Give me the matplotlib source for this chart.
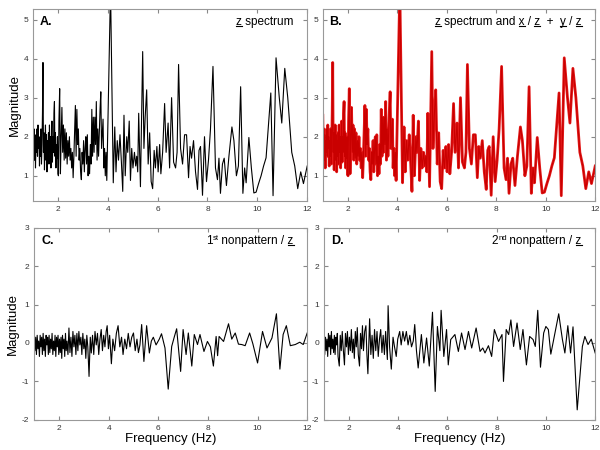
import numpy as np
import matplotlib
matplotlib.use('Agg')
import matplotlib.pyplot as plt

plt.rcParams['font.family'] = ['Liberation Sans', 'DejaVu Sans']
plt.rcParams['axes.unicode_minus'] = False

# z spectrum (panels A and B)
freq_a = [1.00, 1.02, 1.04, 1.06, 1.08, 1.10, 1.12, 1.14, 1.16, 1.18,
          1.20, 1.22, 1.24, 1.26, 1.28, 1.30, 1.32, 1.34, 1.36, 1.38,
          1.40, 1.42, 1.44, 1.46, 1.48, 1.50, 1.52, 1.54, 1.56, 1.58,
          1.60, 1.62, 1.64, 1.66, 1.68, 1.70, 1.72, 1.74, 1.76, 1.78,
          1.80, 1.82, 1.84, 1.86, 1.88, 1.90, 1.92, 1.94, 1.96, 1.98,
          2.00, 2.02, 2.04, 2.07, 2.10, 2.13, 2.16, 2.19, 2.22, 2.25,
          2.28, 2.31, 2.34, 2.37, 2.40, 2.43, 2.46, 2.49, 2.52, 2.55,
          2.58, 2.61, 2.64, 2.67, 2.70, 2.73, 2.76, 2.79, 2.82, 2.85,
          2.88, 2.91, 2.94, 2.97, 3.00, 3.03, 3.06, 3.09, 3.12, 3.15,
          3.18, 3.21, 3.24, 3.27, 3.30, 3.33, 3.36, 3.39, 3.42, 3.45,
          3.48, 3.51, 3.54, 3.57, 3.60, 3.63, 3.66, 3.69, 3.72, 3.75,
          3.78, 3.81, 3.84, 3.87, 3.90, 3.93, 3.96, 4.11, 4.22, 4.28,
          4.33, 4.38, 4.43, 4.49, 4.55, 4.60, 4.65, 4.70, 4.76, 4.80,
          4.86, 4.91, 4.96, 5.01, 5.07, 5.12, 5.16, 5.20, 5.24, 5.31,
          5.40, 5.45, 5.50, 5.56, 5.62, 5.68, 5.74, 5.80, 5.86, 5.91,
          5.97, 6.02, 6.08, 6.13, 6.20, 6.28, 6.34, 6.42, 6.48, 6.56,
          6.64, 6.72, 6.78, 6.84, 6.92, 7.00, 7.08, 7.16, 7.24, 7.30,
          7.36, 7.44, 7.52, 7.60, 7.66, 7.72, 7.80, 7.88, 7.96, 8.04,
          8.12, 8.22, 8.32, 8.40, 8.46, 8.52, 8.60, 8.67, 8.76, 8.86,
          8.98, 9.06, 9.16, 9.24, 9.33, 9.42, 9.49, 9.55, 9.66, 9.76,
          9.86, 9.95, 10.05, 10.15, 10.25, 10.35, 10.54, 10.63, 10.75, 10.88,
          10.98, 11.10, 11.22, 11.38, 11.50, 11.62, 11.74, 11.85, 12.00]
mag_a = [2.55, 1.50, 2.20, 1.40, 2.05, 1.20, 1.90, 1.60, 2.20, 1.50,
         2.30, 1.70, 2.00, 1.25, 1.90, 1.50, 2.20, 1.30, 1.80, 2.60,
         3.90, 1.60, 2.10, 1.15, 1.80, 2.30, 1.40, 2.05, 1.10, 1.90,
         1.50, 2.10, 1.30, 2.30, 1.60, 2.00, 1.20, 1.90, 2.40, 1.35,
         2.00, 1.60, 2.60, 2.90, 1.50, 2.10, 1.20, 1.80, 1.45, 2.00,
         1.05, 1.00, 2.40, 3.23, 1.05, 2.00, 2.75, 1.60, 2.30, 1.40,
         2.20, 1.45, 2.10, 1.30, 1.90, 1.50, 2.00, 1.40, 1.70, 1.20,
         1.60, 0.95, 1.50, 2.20, 2.80, 1.50, 2.70, 1.80, 2.20, 1.40,
         1.70, 1.10, 0.90, 1.60, 1.30, 1.90, 1.10, 1.70, 2.00, 1.30,
         2.05, 1.00, 1.50, 1.05, 1.80, 1.30, 2.70, 1.50, 2.50, 1.60,
         2.50, 1.80, 2.90, 1.40, 2.20, 1.50, 2.10, 2.70, 3.15, 1.70,
         2.10, 2.45, 1.20, 1.70, 1.00, 1.60, 0.88, 5.80, 0.82, 2.25,
         1.10, 1.90, 1.40, 2.05, 1.30, 0.60, 2.55, 1.00, 2.00, 1.60,
         2.40, 0.88, 1.70, 1.20, 1.60, 1.25, 1.50, 1.10, 2.60, 0.72,
         4.18, 1.70, 2.50, 3.20, 1.30, 2.10, 0.85, 0.67, 1.65, 1.20,
         1.75, 1.10, 1.80, 1.05, 1.60, 2.85, 1.60, 2.35, 1.20, 3.00,
         1.35, 1.20, 1.60, 3.85, 1.70, 1.30, 2.05, 2.05, 0.95, 1.75,
         1.45, 1.90, 1.10, 0.65, 1.65, 1.75, 0.50, 2.00, 0.85, 1.40,
         2.20, 3.80, 1.20, 0.90, 1.45, 0.55, 1.30, 1.45, 0.75, 1.50,
         2.25, 1.90, 1.00, 1.25, 3.28, 0.55, 1.20, 0.82, 1.98, 1.20,
         0.56, 0.58, 0.80, 1.00, 1.25, 1.46, 3.12, 0.49, 4.02, 3.00,
         2.35, 3.75, 3.00, 1.60, 1.25, 0.67, 1.10, 0.80, 1.25]

# 1st nonpattern / z (panel C)
freq_c = [1.00, 1.03, 1.06, 1.09, 1.12, 1.15, 1.18, 1.21, 1.24, 1.27,
          1.30, 1.33, 1.36, 1.39, 1.42, 1.45, 1.48, 1.51, 1.54, 1.57,
          1.60, 1.63, 1.66, 1.69, 1.72, 1.75, 1.78, 1.81, 1.84, 1.87,
          1.90, 1.93, 1.96, 1.99, 2.02, 2.05, 2.08, 2.11, 2.14, 2.17,
          2.20, 2.23, 2.26, 2.29, 2.32, 2.36, 2.40, 2.44, 2.48, 2.52,
          2.56, 2.60, 2.64, 2.68, 2.72, 2.76, 2.80, 2.84, 2.88, 2.92,
          2.96, 3.00, 3.04, 3.08, 3.12, 3.16, 3.21, 3.26, 3.30, 3.35,
          3.40, 3.45, 3.50, 3.55, 3.60, 3.65, 3.70, 3.75, 3.80, 3.85,
          3.90, 3.94, 3.99, 4.04, 4.11, 4.17, 4.24, 4.31, 4.38, 4.45,
          4.52, 4.58, 4.65, 4.72, 4.79, 4.86, 4.93, 5.00, 5.07, 5.14,
          5.20, 5.26, 5.33, 5.42, 5.53, 5.64, 5.72, 5.80, 5.91, 6.04,
          6.13, 6.27, 6.40, 6.54, 6.65, 6.74, 6.90, 7.00, 7.12, 7.21,
          7.35, 7.45, 7.58, 7.68, 7.84, 7.98, 8.10, 8.22, 8.33, 8.39,
          8.45, 8.63, 8.83, 8.96, 9.10, 9.23, 9.36, 9.50, 9.68, 9.81,
          10.00, 10.20, 10.38, 10.58, 10.76, 10.90, 11.03, 11.16, 11.32, 11.52,
          11.70, 11.84, 12.00]
mag_c = [0.10, -0.20, 0.15, -0.30, 0.20, -0.15, 0.05, -0.35, 0.20, -0.10,
         0.15, -0.30, 0.25, -0.20, 0.10, -0.35, 0.20, -0.05, 0.15, -0.30,
         0.20, -0.25, 0.10, -0.15, 0.25, -0.30, 0.05, -0.20, 0.20, -0.35,
         0.15, -0.10, 0.20, -0.30, 0.10, -0.25, 0.15, -0.40, 0.20, -0.15,
         0.10, -0.35, 0.25, -0.20, 0.05, -0.30, 0.39, -0.25, 0.15, -0.35,
         0.30, -0.10, 0.20, -0.30, 0.25, -0.20, 0.30, -0.05, 0.15, -0.30,
         0.25, -0.15, 0.10, -0.40, 0.20, -0.10, -0.87, 0.15, -0.26, 0.20,
         -0.30, 0.30, -0.05, 0.25, -0.30, 0.10, 0.35, -0.20, 0.20, -0.10,
         0.30, 0.45, -0.15, 0.20, -0.54, 0.10, -0.20, 0.25, 0.45, -0.10,
         0.15, -0.30, 0.10, -0.15, 0.25, -0.10, 0.15, 0.26, -0.20, 0.10,
         -0.25, -0.05, 0.48, -0.48, 0.45, -0.26, 0.05, 0.15, -0.05, 0.10,
         0.24, -0.13, -1.20, -0.09, 0.17, 0.37, -0.74, 0.35, -0.30, 0.26,
         -0.60, 0.22, -0.04, 0.22, -0.22, 0.04, -0.10, -0.60, 0.17, -0.33,
         0.17, 0.04, 0.50, 0.10, 0.26, -0.03, -0.04, -0.07, 0.26, -0.02,
         -0.52, 0.30, -0.13, 0.13, 0.76, -0.68, 0.22, 0.45, -0.07, -0.04,
         0.02, -0.04, 0.26]

# 2nd nonpattern / z (panel D)
freq_d = [1.00, 1.03, 1.06, 1.09, 1.12, 1.15, 1.18, 1.21, 1.24, 1.27,
          1.30, 1.33, 1.36, 1.39, 1.42, 1.45, 1.48, 1.51, 1.54, 1.57,
          1.62, 1.66, 1.70, 1.74, 1.78, 1.83, 1.87, 1.91, 1.95, 1.99,
          2.03, 2.07, 2.11, 2.15, 2.19, 2.23, 2.27, 2.31, 2.35, 2.39,
          2.44, 2.48, 2.52, 2.56, 2.60, 2.65, 2.70, 2.74, 2.78, 2.85,
          2.90, 2.95, 3.00, 3.05, 3.10, 3.15, 3.20, 3.25, 3.30, 3.35,
          3.40, 3.45, 3.50, 3.57, 3.60, 3.66, 3.73, 3.80, 3.86, 3.93,
          3.99, 4.07, 4.13, 4.20, 4.27, 4.34, 4.41, 4.48, 4.55, 4.62,
          4.68, 4.75, 4.82, 4.95, 5.05, 5.16, 5.27, 5.40, 5.51, 5.60,
          5.70, 5.75, 5.86, 5.97, 6.04, 6.14, 6.31, 6.45, 6.58, 6.72,
          6.86, 6.99, 7.17, 7.33, 7.44, 7.53, 7.67, 7.80, 7.91, 8.08,
          8.22, 8.28, 8.39, 8.49, 8.58, 8.69, 8.83, 8.96, 9.07, 9.21,
          9.34, 9.48, 9.57, 9.67, 9.78, 9.91, 10.00, 10.10, 10.20, 10.34,
          10.52, 10.67, 10.77, 10.89, 11.00, 11.10, 11.27, 11.48, 11.58, 11.71,
          11.84, 12.00]
mag_d = [0.20, -0.30, 0.15, -0.20, 0.10, -0.35, 0.25, -0.10, 0.20, -0.30,
         0.30, -0.15, 0.10, -0.25, 0.20, -0.30, 0.15, -0.05, 0.25, -0.35,
         -0.60, 0.20, -0.20, 0.30, -0.15, -0.57, 0.25, -0.10, 0.30, -0.30,
         0.15, -0.20, 0.35, -0.25, 0.10, -0.40, 0.30, -0.10, 0.40, -0.30,
         -0.60, 0.25, -0.15, 0.45, -0.20, 0.30, 0.45, -0.30, -0.80, 0.63,
         -0.30, 0.20, -0.40, 0.35, -0.20, 0.30, -0.35, 0.10, 0.35, -0.25,
         0.20, -0.30, 0.30, -0.43, 0.97, -0.10, -0.68, 0.15, -0.10, -0.35,
         0.10, 0.30, -0.05, 0.30, 0.05, 0.30, -0.05, 0.20, -0.10, 0.05,
         0.48, -0.20, -0.65, 0.22, -0.52, 0.13, -0.60, 0.80, -1.26, 0.43,
         -0.20, 0.85, -0.35, 0.35, -0.57, 0.09, 0.22, -0.22, 0.26, -0.17,
         0.30, -0.13, 0.39, -0.22, -0.13, -0.26, -0.07, -0.35, 0.35, 0.04,
         0.22, -1.00, 0.35, 0.22, 0.60, -0.09, 0.52, -0.17, 0.35, -0.57,
         0.17, 0.09, -0.09, 0.85, -0.63, 0.26, 0.43, 0.35, -0.29, 0.17,
         0.76, 0.09, -0.26, 0.45, -0.26, 0.42, -1.74, -0.09, 0.17, -0.04,
         0.10, -0.26]

x_ticks = [2, 4, 6, 8, 10, 12]

fig = plt.figure(figsize=(6, 4.5), dpi=100)
ax_a = fig.add_axes([0.055, 0.553, 0.457, 0.427])
ax_b = fig.add_axes([0.538, 0.553, 0.454, 0.427])
ax_c = fig.add_axes([0.057, 0.067, 0.455, 0.427])
ax_d = fig.add_axes([0.540, 0.067, 0.452, 0.427])

ax_a.plot(freq_a, mag_a, color='black', lw=0.8)
ax_b.plot(freq_a, mag_a, color='black', lw=0.8)
ax_b.plot(freq_a, mag_a, color='#e00000', lw=2.0, alpha=0.9)
ax_c.plot(freq_c, mag_c, color='black', lw=0.8)
ax_d.plot(freq_d, mag_d, color='black', lw=0.8)

# titles: (axes, tag, ordinal number, ordinal suffix, main text, underlined letters)
labels = [(ax_a, 'A.', '', '', 'z spectrum', [0]),
          (ax_b, 'B.', '', '', 'z spectrum and x / z  +  y / z', [0, 15, 19, 25, 29]),
          (ax_c, 'C.', '1', 'st', ' nonpattern / z', [14]),
          (ax_d, 'D.', '2', 'nd', ' nonpattern / z', [14])]

title_size = 8.5


def text_width(s, renderer, size=title_size):
    tmp = fig.text(0, 0, s, fontsize=size)
    w = tmp.get_window_extent(renderer).width
    tmp.remove()
    return w


for ax, tag, num, suf, title, under in labels:
    ax.set_xlim(1, 12)
    ax.set_xticks(x_ticks)
    ax.tick_params(direction='in', top=True, right=True, labelsize=6,
                   length=3, color='#888888', labelcolor='#333333')
    for sp in ax.spines.values():
        sp.set_color('#999999')
        sp.set_linewidth(0.8)
    ax.text(0.025, 0.93, tag, transform=ax.transAxes, fontsize=9,
            fontweight='bold', va='center')
    ax.text(0.95, 0.93, title, transform=ax.transAxes, fontsize=title_size,
            ha='right', va='center')

for ax in (ax_a, ax_b):
    ax.set_ylim(0.35, 5.27)
    ax.set_yticks([1, 2, 3, 4, 5])
for ax in (ax_c, ax_d):
    ax.set_ylim(-2, 3)
    ax.set_yticks([-2, -1, 0, 1, 2, 3])
    ax.set_xlabel('Frequency (Hz)', fontsize=9.5, labelpad=1)

ax_a.set_ylabel('Magnitude', fontsize=9.5, labelpad=2)
ax_c.set_ylabel('Magnitude', fontsize=9.5, labelpad=2)

# underlines under the vector names and the ordinal superscripts
fig.canvas.draw()
renderer = fig.canvas.get_renderer()
for ax, tag, num, suf, title, under in labels:
    t = ax.texts[-1]
    bb = t.get_window_extent(renderer)
    inv = ax.transAxes.inverted()
    wz = text_width('z', renderer)
    for i in under:
        right = bb.x0 + text_width(title[:i + 1], renderer)
        left = right - wz
        y = bb.y0 + 2
        (x0, y0), (x1, y1) = inv.transform([(left, y), (right, y)])
        ax.plot([x0, x1], [y0, y1], color='black', lw=0.8,
                transform=ax.transAxes, clip_on=False)
    if num:
        ymid = (bb.y0 + bb.y1) / 2
        sx, sy = inv.transform((bb.x0 + 0.5, ymid + 3))
        ax.text(sx, sy, suf, transform=ax.transAxes, fontsize=5.5,
                ha='right', va='center')
        nx, ny = inv.transform((bb.x0 - text_width(suf, renderer, 5.5), ymid))
        ax.text(nx, ny, num, transform=ax.transAxes, fontsize=title_size,
                ha='right', va='center')

fig.savefig('out.png', dpi=100)
